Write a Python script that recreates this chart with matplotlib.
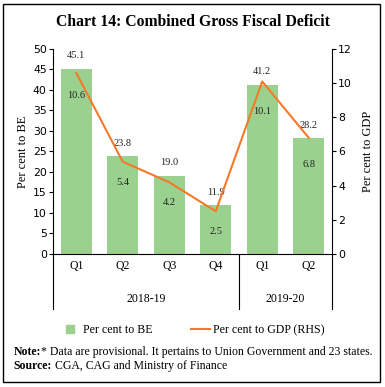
import matplotlib

matplotlib.use("Agg")
import matplotlib.pyplot as plt
from matplotlib.lines import Line2D
from matplotlib.patches import Rectangle

# ------------------------------------------------------------------ data ---
quarters = ["Q1", "Q2", "Q3", "Q4", "Q1", "Q2"]
years = ["2018-19", "2019-20"]
year_spans = [(0, 3), (4, 5)]          # index range of quarters per year
pct_be = [45.1, 23.8, 19.0, 11.9, 41.2, 28.2]
pct_gdp = [10.6, 5.4, 4.2, 2.5, 10.1, 6.8]

GREEN = "#9BD18E"
ORANGE = "#F47A2A"
SERIF = "Liberation Serif"
SANS = "DejaVu Sans"

# ------------------------------------------------------------------ plot ---
fig = plt.figure(figsize=(3.85, 3.87), dpi=100)
ax = fig.add_axes([0.1377, 0.3437, 0.7246, 0.5297])
ax2 = ax.twinx()

x = list(range(len(quarters)))
ax.bar(x, pct_be, width=0.66, color=GREEN, zorder=2)
ax2.plot(x, pct_gdp, color=ORANGE, lw=1.5, zorder=3)
ax2.set_zorder(ax.get_zorder() + 1)

for xi, be, gdp in zip(x, pct_be, pct_gdp):
    ax.annotate(f"{be:.1f}", (xi, be), xytext=(0, 9.5), textcoords="offset points",
                ha="center", va="center", fontsize=7.5, family=SERIF, color="#222222")
    ax.annotate(f"{gdp:.1f}", (xi, be), xytext=(0, -19), textcoords="offset points",
                ha="center", va="center", fontsize=7.5, family=SERIF, color="#222222")

ax.set_xlim(-0.5, len(quarters) - 0.5)
ax.set_ylim(0, 50)
ax.set_yticks(range(0, 51, 5))
ax2.set_ylim(0, 12)
ax2.set_yticks(range(0, 13, 2))

ax.set_xticks(x)
ax.set_xticklabels(quarters, family=SERIF, fontsize=8.5)
ax.tick_params(axis="x", length=0, pad=4)
for a in (ax, ax2):
    a.tick_params(axis="y", length=3, width=0.8, labelsize=7.8, pad=1.5)
    for lab in a.get_yticklabels():
        lab.set_family(SANS)
    a.spines["top"].set_visible(False)

ax.spines["right"].set_visible(False)
ax2.spines["left"].set_visible(False)
ax2.spines["bottom"].set_visible(False)
for s in ("left", "bottom"):
    ax.spines[s].set_linewidth(0.8)
ax2.spines["right"].set_linewidth(0.8)

ax.set_ylabel("Per cent to BE", family=SERIF, fontsize=9, labelpad=3)
ax2.set_ylabel("Per cent to GDP", family=SERIF, fontsize=9, labelpad=7)

# year group separators and labels
trans = ax.get_xaxis_transform()
for xs in (-0.5, 3.5, 5.5):
    ax.plot([xs, xs], [0, -0.268], transform=trans, color="black", lw=0.8,
            clip_on=False)
for name, (i0, i1) in zip(years, year_spans):
    ax.text((i0 + i1) / 2, -0.22, name, transform=trans, ha="center", va="center",
            family=SERIF, fontsize=8.5)

# title
fig.text(0.5, 0.943, "Chart 14: Combined Gross Fiscal Deficit", ha="center",
         va="center", family=SERIF, fontweight="bold", fontsize=11.3)

# legend
handles = [Line2D([], [], marker="s", ls="", color=GREEN, markersize=5.5),
           Line2D([], [], color=ORANGE, lw=1.5)]
fig.legend(handles, ["Per cent to BE", "Per cent to GDP (RHS)"], loc="center",
           bbox_to_anchor=(0.5, 0.147), ncol=2, frameon=False,
           prop={"family": SERIF, "size": 8.6}, handlelength=1.6,
           handletextpad=0.3, columnspacing=3.2)

# notes: bold lead-in followed by regular text
renderer = fig.canvas.get_renderer()
for ypos, lead, rest in [(0.09, "Note:", "* Data are provisional. It pertains to Union Government and 23 states."),
                         (0.054, "Source:", " CGA, CAG and Ministry of Finance")]:
    t = fig.text(0.036, ypos, lead, family=SERIF, fontsize=8.5, va="center",
                 fontweight="bold")
    bb = t.get_window_extent(renderer).transformed(fig.transFigure.inverted())
    fig.text(bb.x1, ypos, rest, family=SERIF, fontsize=8.5, va="center")

# outer frame
fig.patches.append(Rectangle((0.008, 0.013), 0.979, 0.977, transform=fig.transFigure,
                             fill=False, edgecolor="black", lw=1))

fig.savefig("out.png", dpi=100)
